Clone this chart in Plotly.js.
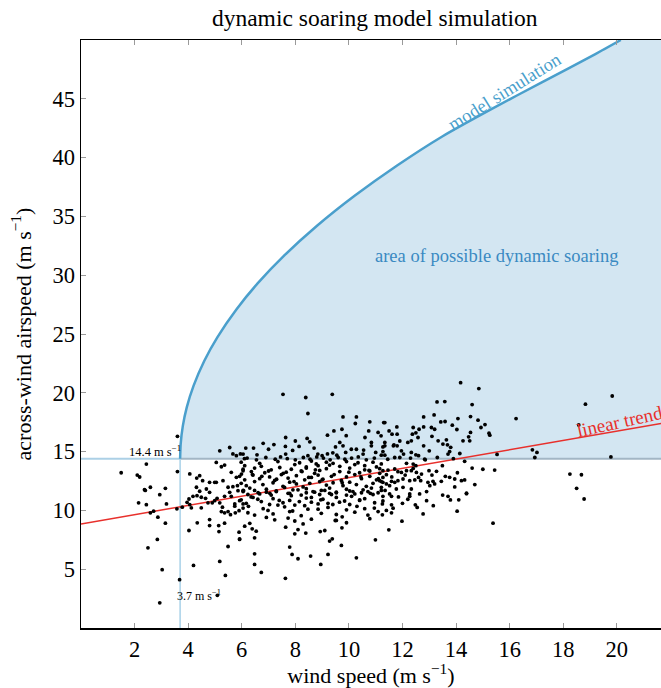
<!DOCTYPE html>
<html>
<head>
<meta charset="utf-8">
<script src="https://cdn.plot.ly/plotly-3.0.1.min.js"></script>
<style>html,body{margin:0;padding:0;background:#fff;}#chart{width:661px;height:688px;}</style>
</head>
<body>
<div id="chart"></div>
<script>
// ---- data ----
const xTicks = [2, 4, 6, 8, 10, 12, 14, 16, 18, 20];
const yTicks = [5, 10, 15, 20, 25, 30, 35, 40, 45];
const xRange = [0, 21.65];
const yRange = [0, 50];

const thresholdWind = 3.7;      // m s-1
const thresholdAirspeed = 14.4; // m s-1

const modelWind     = [3.7, 3.72, 3.8, 3.95, 4.2, 4.6, 5.1, 5.8, 6.6, 7.6, 8.8, 10.2, 11.8, 13.5, 15.3, 17.2, 19.2, 20.15];
const modelAirspeed = [14.4, 15.64, 17.17, 18.78, 20.59, 22.71, 24.76, 27.09, 29.32, 31.7, 34.18, 36.73, 39.33, 41.82, 44.1, 46.4, 48.8, 50.0];

const trendWind     = [0, 21.65];
const trendAirspeed = [8.85, 17.38];

const windSpeed = [
  3.6, 5.18, 5.55, 2.44, 1.5, 3.6, 2.1, 2.19, 2.59, 2.4, 3.15, 4.06, 4.32, 4.43, 4.54, 4.8, 5.05,
  5.67, 5.8, 5.95, 6.1, 5.05, 5.24, 5.36, 5.61, 5.8, 5.99, 6.05, 4.99, 5.3, 5.49, 5.67, 5.84, 4.31, 4.43, 4.68, 4.8, 5.55, 5.86, 6.07,
  2.37, 2.94, 2.15, 2.44, 3.19, 2.59, 2.71, 2.87, 3.15, 2.85, 2.5, 3.03, 3.68, 2.94, 5.09,
  3.58, 3.78, 3.96, 4.06, 4.03, 4.18, 4.33, 4.49, 4.65, 4.12, 4.49, 4.74, 4.9, 4.99, 5.08, 5.18,
  5.36, 5.61, 5.74, 5.74, 5.92, 6.05, 5.28, 5.24, 5.36, 5.49, 5.58, 5.76, 5.9,
  4.34, 4.8, 4.8, 5.14, 5.36, 5.15, 4.03, 5.49, 5.9, 5.92, 4.2, 5.18, 5.39,
  7.54, 8.39, 9.38, 8.47, 9.78, 10.28, 10.24, 10.78, 11.3, 9.44, 9.74, 10.74, 11.09, 7.64, 8.44, 8.54, 9.66, 9.78, 7.63, 8.14, 7.0, 6.15, 6.44, 9.5,
  9.88, 10.09, 10.28, 10.53, 10.55, 10.84, 10.84, 11.34, 11.34, 11.66, 11.0, 11.27, 6.05, 6.57, 7.64, 8.47, 8.84, 9.0, 9.2, 9.4, 9.55,
  5.98, 6.11, 6.67, 6.73, 7.35, 7.98, 8.16, 8.41, 8.6, 8.78, 8.85, 9.16, 9.28, 9.41, 9.66, 9.91, 10.22, 10.34, 10.59, 10.9, 11.03, 11.21,
  6.05, 6.36, 6.48, 6.86, 7.1, 7.42, 7.66, 7.85, 8.22, 8.41, 8.72, 8.91, 9.16, 9.66, 10.03, 10.4, 10.59, 10.78, 11.15,
  5.92, 6.11, 6.42, 6.67, 7.04, 7.23, 7.48, 7.73, 8.04, 8.35, 8.6, 8.85, 9.03, 9.35, 9.72, 9.91, 10.22, 10.47, 10.78, 11.03, 11.27,
  5.98, 6.17, 6.48, 6.79, 7.17, 7.54, 7.79, 8.04, 8.29, 8.54, 8.91, 9.16, 9.41, 9.78, 10.03, 10.28, 10.65, 10.9, 11.21,
  6.05, 6.3, 6.61, 6.92, 7.29, 7.6, 7.79, 8.1, 8.41, 8.72, 8.97, 9.28, 9.53, 9.91, 10.15, 10.53, 10.84, 11.09,
  6.05, 6.23, 6.48, 6.67, 6.92, 7.1, 7.29, 7.73, 7.91, 8.22, 8.41, 8.66, 8.91, 9.1, 9.28, 9.53, 9.91, 10.03, 10.22, 10.47, 10.71, 10.9, 11.21,
  5.98, 6.17, 6.42, 6.73, 7.04, 7.17, 7.54, 7.79, 7.98, 8.41, 8.6, 8.85, 9.03, 9.22, 9.53, 9.84, 10.03, 10.4, 10.59, 10.96, 11.27,
  6.05, 6.23, 6.48, 6.98, 7.17, 7.6, 7.79, 8.22, 8.47, 8.97, 9.22, 9.53, 9.91, 10.22, 10.59, 10.71, 11.09,
  6.3, 6.92, 7.23, 7.73, 7.98, 8.29, 8.6, 9.53, 9.91, 10.78,
  6.11, 6.39, 6.54, 6.48, 5.92, 7.64, 7.98, 8.1, 8.39, 8.93, 9.1, 9.49, 9.74, 9.28, 9.38, 9.72, 10.99, 7.79, 7.88, 8.1, 8.57, 9.22, 10.28, 6.48, 6.48, 8.95, 6.73, 7.63,
  14.17, 14.85, 13.29, 13.58, 14.6, 12.79, 13.18, 14.54, 16.24, 13.43, 13.59, 14.07, 14.82, 15.08, 14.93, 11.34,
  11.79, 12.4, 12.79, 13.08, 13.2, 12.62, 13.86, 14.03, 11.5, 11.61, 11.8, 12.37, 12.58, 14.54, 14.47, 15.23, 15.26, 11.2,
  13.33, 13.64, 14.26, 14.51, 12.2, 12.33, 11.68, 11.8, 11.27, 12.79, 13.51, 13.68, 13.8,
  11.96, 12.04, 12.33, 12.5, 12.6, 13.0, 13.7, 13.76, 14.14, 11.21, 11.34, 11.71, 15.53,
  14.32, 12.83, 12.15, 12.4, 12.5, 13.49, 15.44,
  11.27, 11.46, 11.71, 11.83, 11.96, 12.15, 12.33, 12.4, 12.52, 11.15, 11.4, 12.71, 12.99, 13.27,
  11.15, 11.27, 11.4, 11.59, 11.71, 11.83, 12.02, 12.27, 12.46, 12.68, 12.95, 13.14, 13.45, 13.76, 13.95, 14.2, 14.32,
  11.21, 11.52, 11.77, 12.02, 12.33, 13.02, 13.2, 14.39,
  15.38, 14.04, 12.77, 12.48, 11.98, 11.49, 11.25, 11.59, 11.65, 11.59, 11.25, 12.9, 13.79, 13.7, 14.39, 12.64, 12.27, 12.27, 11.52, 11.59, 11.27,
  19.83, 18.83, 18.58, 16.85, 17.02, 16.94, 19.78, 18.25, 18.68, 18.5, 18.78,
  6.2, 6.55, 6.9, 7.25, 7.45, 7.7, 8.0, 8.3, 8.55, 8.8, 9.05, 9.3, 9.6, 9.85, 10.1, 10.35, 10.65, 10.95, 11.45, 11.9, 12.3, 12.85, 13.3, 13.9,
  6.4, 6.75, 7.0, 7.3, 7.55, 7.95, 8.25, 8.5, 8.75, 9.0, 9.45, 9.75, 10.0, 10.45, 10.75, 11.1, 11.6, 12.1, 12.6, 13.1, 13.6, 14.05, 14.6, 15.0,
  6.35, 6.6, 7.05, 7.4, 7.85, 8.15, 8.6, 8.95, 9.35, 9.65, 10.1, 10.4, 10.8, 11.35, 11.85, 12.2, 12.9, 13.5, 14.1, 14.7,
  6.25, 6.8, 7.35, 7.9, 8.35, 8.85, 9.4, 9.75, 10.3, 10.95, 11.4, 12.0, 12.55, 13.15, 13.95,
  7.2, 7.9, 8.7, 9.2, 10.6, 11.9, 12.5, 13.1, 6.8, 8.0, 9.9
];
const airspeed = [
  16.3, 15.07, 15.35, 13.94, 13.2, 13.3, 13.0, 12.84, 11.97, 11.7, 11.88, 13.1, 12.75, 12.95, 12.53, 12.39, 12.39,
  14.8, 14.65, 14.8, 14.4, 14.08, 13.71, 13.85, 13.24, 12.81, 13.09, 13.37, 12.39, 12.53, 11.97, 12.02, 12.1, 11.97, 11.63, 11.82, 11.54, 11.54, 11.68, 11.68,
  11.76, 11.34, 10.64, 10.49, 10.55, 9.79, 9.93, 9.42, 8.91, 7.53, 6.82, 4.96, 4.11, 2.14, 2.78,
  10.13, 10.27, 10.69, 10.49, 10.97, 11.2, 11.25, 11.12, 11.03, 10.21, 10.21, 10.64, 10.64, 10.83, 11.03, 10.64,
  11.2, 11.2, 10.55, 10.36, 10.83, 10.55, 10.27, 9.9, 9.79, 9.9, 9.64, 9.79, 9.98,
  8.94, 9.22, 8.71, 8.71, 8.91, 8.2, 8.29, 6.93, 8.15, 7.58, 5.32, 5.66, 4.47,
  19.87, 19.6, 19.87, 18.24, 17.95, 17.95, 17.39, 17.53, 17.47, 16.76, 16.9, 16.76, 16.63, 16.2, 16.12, 15.83, 15.78, 15.49, 15.44, 15.44, 15.2, 15.3, 15.3, 15.4,
  14.93, 15.2, 15.2, 14.79, 15.13, 15.78, 15.49, 15.78, 15.49, 15.49, 14.93, 15.0, 14.79, 14.73, 14.79, 14.65, 14.79, 14.65, 14.8, 14.9, 14.7,
  14.1, 13.8, 14.0, 13.75, 14.15, 13.9, 14.05, 13.7, 14.2, 13.95, 13.8, 14.1, 13.85, 14.0, 13.75, 14.15, 13.9, 14.05, 13.8, 14.1, 13.7, 13.95,
  13.5, 13.3, 13.6, 13.2, 13.45, 13.65, 13.25, 13.5, 13.35, 13.6, 13.15, 13.4, 13.55, 13.3, 13.6, 13.2, 13.45, 13.35, 13.55,
  12.9, 12.6, 13.0, 12.7, 12.85, 12.55, 13.05, 12.75, 12.95, 12.6, 12.8, 13.0, 12.65, 12.9, 12.55, 12.85, 13.05, 12.7, 12.9, 12.6, 12.8,
  12.3, 12.1, 12.45, 12.2, 12.35, 12.05, 12.4, 12.25, 12.0, 12.3, 12.45, 12.15, 12.35, 12.1, 12.4, 12.2, 12.05, 12.3, 12.45,
  11.7, 11.9, 11.5, 11.8, 11.6, 11.95, 11.45, 11.75, 11.85, 11.55, 11.7, 11.9, 11.5, 11.8, 11.6, 11.75, 11.9, 11.5,
  11.6, 11.35, 11.7, 11.4, 11.55, 11.3, 11.65, 11.45, 11.75, 11.3, 11.5, 11.6, 11.35, 11.7, 11.45, 11.55, 11.3, 11.65, 11.4, 11.5, 11.6, 11.35, 11.7,
  10.9, 10.6, 11.1, 10.75, 10.5, 11.0, 10.65, 10.85, 10.45, 11.05, 10.7, 10.55, 10.95, 10.6, 11.1, 10.8, 10.5, 10.9, 11.0, 10.65, 10.8,
  10.2, 9.8, 9.6, 10.0, 9.7, 10.3, 9.9, 9.55, 10.1, 9.75, 10.25, 9.65, 10.05, 9.85, 10.15, 9.6, 9.9,
  8.9, 9.4, 9.2, 9.35, 9.1, 8.85, 9.25, 9.15, 8.95, 9.3,
  8.66, 8.43, 8.23, 7.67, 7.53, 8.57, 8.01, 8.37, 8.07, 8.2, 8.29, 9.14, 8.52, 7.39, 7.58, 7.02, 7.5, 6.88, 6.26, 5.89, 6.12, 6.26, 5.97, 6.31, 5.41, 5.41, 4.73, 4.22,
  20.86, 20.36, 19.22, 19.25, 19.0, 17.95, 18.12, 17.98, 17.81, 17.52, 17.56, 17.81, 17.67, 17.3, 17.05, 17.47,
  17.1, 17.05, 17.1, 17.05, 16.9, 16.9, 17.25, 16.88, 16.76, 16.48, 16.48, 16.48, 16.2, 16.63, 16.26, 16.57, 16.4, 16.34,
  15.92, 16.0, 15.92, 15.92, 15.78, 15.92, 15.58, 15.49, 15.4, 15.49, 15.64, 15.58, 15.36,
  15.07, 14.79, 14.93, 14.73, 14.65, 15.07, 14.79, 15.0, 14.84, 14.7, 14.7, 14.5, 14.76,
  14.17, 14.36, 14.0, 13.94, 13.8, 13.8, 13.43,
  13.38, 13.43, 13.52, 13.29, 13.23, 13.38, 13.38, 13.57, 13.23, 13.15, 13.04, 13.09, 13.38, 13.32,
  12.53, 12.39, 12.25, 12.47, 12.39, 12.53, 12.67, 12.53, 12.59, 12.53, 12.39, 12.47, 12.47, 12.81, 12.67, 12.53, 12.59,
  11.96, 12.1, 11.82, 11.96, 11.82, 12.1, 12.25, 11.46,
  8.91, 9.93, 9.7, 10.47, 9.08, 8.35, 9.62, 9.79, 10.19, 10.47, 10.55, 10.83, 10.89, 11.2, 11.42, 11.4, 11.4, 11.2, 11.4, 11.2, 11.2,
  19.73, 19.03, 17.27, 15.15, 14.93, 14.5, 14.55, 13.09, 13.03, 11.88, 10.97,
  14.45, 14.3, 14.5, 14.35, 14.55, 14.4, 14.3, 14.5, 14.35, 14.55, 14.45, 14.3, 14.5, 14.35, 14.45, 14.55, 14.3, 14.45, 14.35, 14.5, 14.45, 14.3, 14.5, 14.4,
  13.05, 12.9, 13.35, 12.65, 13.15, 12.45, 13.3, 12.8, 13.45, 12.6, 13.05, 12.35, 13.25, 12.85, 13.4, 12.7, 12.85, 13.0, 12.8, 13.0, 12.9, 13.2, 13.6, 13.5,
  11.15, 10.95, 11.45, 10.85, 11.25, 10.75, 11.1, 10.9, 11.35, 10.7, 11.2, 10.85, 11.45, 11.7, 11.15, 10.95, 11.6, 11.3, 10.9, 12.2,
  10.35, 10.15, 10.45, 9.95, 10.4, 10.1, 10.5, 9.45, 10.35, 10.2, 10.0, 10.6, 10.25, 10.4, 12.0,
  15.6, 15.1, 15.3, 16.4, 16.2, 15.9, 16.6, 16.3, 15.7, 15.9, 16.35
];

// ---- styling ----
const SERIF = '"Liberation Serif", "DejaVu Serif", serif';
const modelColor = '#4a9fcc';
const fillColor = '#d3e6f2';

const traces = [
  { // shaded area of possible dynamic soaring
    x: modelWind.concat([xRange[1], xRange[1], thresholdWind]),
    y: modelAirspeed.concat([yRange[1], thresholdAirspeed, thresholdAirspeed]),
    mode: 'lines', fill: 'toself', fillcolor: fillColor,
    line: {width: 0, color: fillColor}, hoverinfo: 'skip'
  },
  { // threshold airspeed, outside area
    x: [xRange[0], thresholdWind], y: [thresholdAirspeed, thresholdAirspeed],
    mode: 'lines', line: {color: '#acd0e6', width: 2}, hoverinfo: 'skip'
  },
  { // threshold airspeed, inside area
    x: [thresholdWind, xRange[1]], y: [thresholdAirspeed, thresholdAirspeed],
    mode: 'lines', line: {color: '#a2b6c5', width: 2}, hoverinfo: 'skip'
  },
  { // threshold wind speed
    x: [thresholdWind, thresholdWind], y: [yRange[0], thresholdAirspeed],
    mode: 'lines', line: {color: '#a9d1e8', width: 1.5}, hoverinfo: 'skip'
  },
  { // model simulation boundary
    x: modelWind, y: modelAirspeed, mode: 'lines',
    line: {color: modelColor, width: 2.5, shape: 'spline', smoothing: 0.6}, hoverinfo: 'skip'
  },
  { // linear trend
    x: trendWind, y: trendAirspeed, mode: 'lines',
    line: {color: '#e8302c', width: 1.5}, hoverinfo: 'skip'
  },
  { // observations
    x: windSpeed, y: airspeed, mode: 'markers', type: 'scatter',
    marker: {color: '#000', size: 3.8}, hoverinfo: 'skip'
  }
];

const layout = {
  width: 661, height: 688,
  margin: {l: 81, r: 0, t: 40, b: 60},
  paper_bgcolor: '#fff', plot_bgcolor: '#fff',
  showlegend: false,
  font: {family: SERIF, color: '#000', size: 22},
  title: {text: 'dynamic soaring model simulation', font: {family: SERIF, size: 23.5, color: '#000'},
          x: 0.567, xanchor: 'center', y: 0.974, yanchor: 'middle'},
  xaxis: {
    range: xRange, tickvals: xTicks, ticktext: xTicks.map(String),
    ticks: 'inside', ticklen: 5, tickwidth: 1, tickcolor: '#9a9a9a',
    showline: true, linecolor: '#000', linewidth: 1.5, mirror: 'ticks',
    showgrid: false, zeroline: false, automargin: false,
    ticklabelstandoff: 0,
    tickfont: {family: SERIF, size: 22.5, color: '#000'},
    title: {text: 'wind speed (m s<sup>\u22121</sup>)', font: {family: SERIF, size: 22, color: '#000'}, standoff: 4}
  },
  yaxis: {
    range: yRange, tickvals: yTicks, ticktext: yTicks.map(String),
    ticks: 'inside', ticklen: 5, tickwidth: 1, tickcolor: '#9a9a9a',
    showline: true, linecolor: '#000', linewidth: 1.5, mirror: false,
    showgrid: false, zeroline: false, automargin: false,
    tickfont: {family: SERIF, size: 22.5, color: '#000'},
    title: {text: 'across-wind airspeed (m s<sup>\u22121</sup>)', font: {family: SERIF, size: 22, color: '#000'}, standoff: 15}
  },
  annotations: [
    {x: 15.8, y: 45.6, xref: 'x', yref: 'y', text: 'model simulation', showarrow: false,
     textangle: -32, font: {family: SERIF, size: 18.5, color: modelColor}},
    {x: 15.52, y: 31.65, xref: 'x', yref: 'y', text: 'area of possible dynamic soaring', showarrow: false,
     font: {family: SERIF, size: 18.5, color: '#3a8ac2'}},
    {x: 20.12, y: 17.55, xref: 'x', yref: 'y', text: 'linear trend', showarrow: false,
     textangle: -12.5, font: {family: SERIF, size: 19, color: '#e8302c'}},
    {x: 2.75, y: 15.05, xref: 'x', yref: 'y', text: thresholdAirspeed + ' m s<sup>\u22121</sup>', showarrow: false,
     font: {family: SERIF, size: 12.5, color: '#000'}},
    {x: 4.39, y: 2.8, xref: 'x', yref: 'y', text: thresholdWind + ' m s<sup>\u22121</sup>', showarrow: false,
     font: {family: SERIF, size: 12, color: '#000'}}
  ]
};

Plotly.newPlot('chart', traces, layout, {displayModeBar: false, staticPlot: true});
</script>
</body>
</html>
